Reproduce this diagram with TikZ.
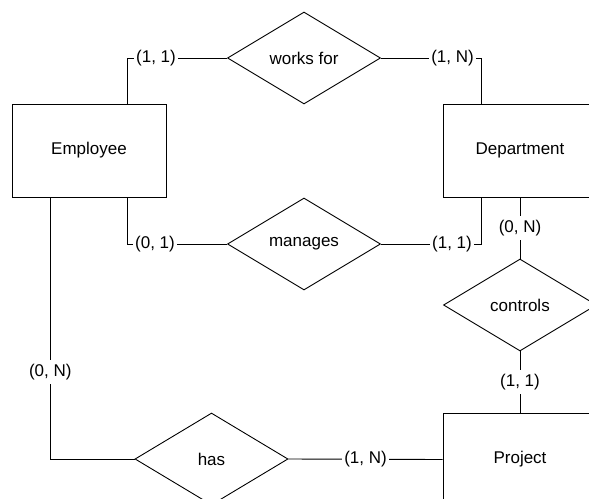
\documentclass[tikz,border=0pt]{standalone}
\usepackage{fontspec}
\setmainfont{Liberation Sans}
\usetikzlibrary{shapes.geometric,calc}
\newcommand{\erfont}{\fontsize{17}{20}\selectfont}
\begin{document}
\begin{tikzpicture}[x=1pt,y=-1pt,line width=0.9pt,
  entity/.style={draw,rectangle,minimum width=154pt,minimum height=93pt,inner sep=0pt,font=\erfont},
  relation/.style={draw,diamond,minimum width=153pt,minimum height=92pt,inner sep=0pt,font=\erfont},
  card/.style={fill=white,inner xsep=2pt,inner ysep=4pt,font=\erfont}]
\useasboundingbox (0,0) rectangle (589,498);
\clip (0,0) rectangle (589,498);

% entities
\node[entity] (emp)  at (89,150.5)  {Employee};
\node[entity] (dept) at (520,150.5) {Department};
\node[entity] (proj) at (520,459.5) {Project};

% relationships
\node[relation] (works)    at (304,58)    {works for};
\node[relation] (manages)  at (304,244)   {manages};
\node[relation] (controls) at (520,305)   {controls};
\node[relation] (has)      at (211.5,459) {has};

% connectors with cardinalities
\draw ($(emp.north)!0.5!(emp.north east)$) |- (works.west)
  node[card,pos=0.5,anchor=west,xshift=6pt] {(1, 1)};
\draw ($(dept.north)!0.5!(dept.north west)$) |- (works.east)
  node[card,pos=0.5,anchor=east,xshift=-5pt] {(1, N)};
\draw ($(emp.south)!0.5!(emp.south east)$) |- (manages.west)
  node[card,pos=0.5,anchor=west,xshift=5pt] {(0, 1)};
\draw ($(dept.south)!0.5!(dept.south west)$) |- (manages.east)
  node[card,pos=0.5,anchor=east,xshift=-7pt] {(1, 1)};
\draw (dept.south) -- (controls.north) node[card,midway] {(0, N)};
\draw (controls.south) -- (proj.north) node[card,midway] {(1, 1)};
\draw ($(emp.south west)!0.5!(emp.south)$) |- (has.west)
  node[card,pos=0.334] {(0, N)};
\draw (has.east) -- (proj.west) node[card,midway] {(1, N)};
\end{tikzpicture}
\end{document}
